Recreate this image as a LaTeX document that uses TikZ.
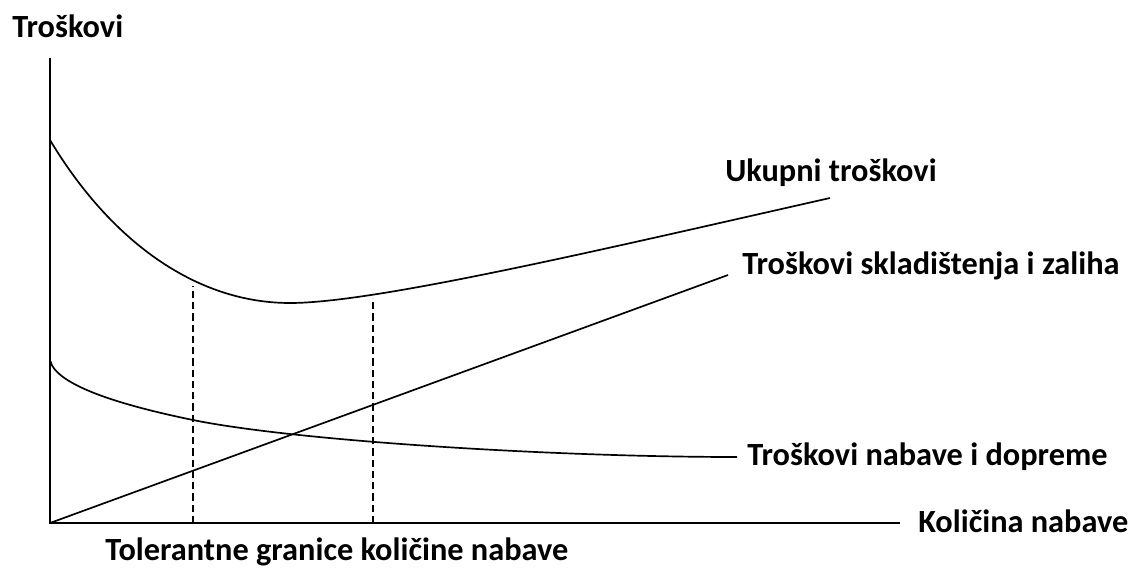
\documentclass[tikz,border=0pt]{standalone}
\usepackage{fontspec}
\setmainfont{Carlito}

\begin{document}
\begin{tikzpicture}[
    x=0.025cm, y=-0.025cm,
    axis/.style={line width=1.3pt},
    cost/.style={line width=1.2pt},
    bound/.style={line width=1pt, dash pattern=on 5pt off 3pt},
    lbl/.style={font=\fontsize{23}{27}\selectfont\bfseries, inner sep=0pt, anchor=base west}
    ]
    \useasboundingbox (0,0) rectangle (1131,567);

    % axes
    \coordinate (O) at (50,523);
    \coordinate (ytop) at (50,58);
    \coordinate (xend) at (900,523);
    \draw [axis] (ytop) -- (O) -- (xend);
    \node [lbl] (yl) at (12,37) {Troškovi};
    \node [lbl] (xl) at (918,532) {Količina nabave};

    % ukupni troskovi
    \coordinate (U0) at (50,140);
    \coordinate (Umin) at (290,303);
    \coordinate (U1) at (830,198);
    \draw [cost] (U0) .. controls (110,240) and (195,303) .. (Umin)
                      .. controls (375,303) and (600,250) .. (U1);
    \node [lbl] (ul) at (725,181) {Ukupni troškovi};

    % skladistenje
    \coordinate (S1) at (728,275);
    \draw [cost] (O) -- (S1);
    \node [lbl] (sl) at (742,274) {Troškovi skladištenja i zaliha};

    % nabava
    \coordinate (N0) at (50,360);
    \coordinate (Nm) at (193,420);
    \coordinate (N1) at (737,457);
    \draw [cost] (N0) .. controls (55,385) and (120,405) .. (Nm)
                      .. controls (293,440.5) and (550,457) .. (N1);
    \node [lbl] (nl) at (747,465) {Troškovi nabave i dopreme};

    % tolerantne granice
    \coordinate (a0) at (193,523);
    \coordinate (a1) at (193,286);
    \coordinate (b0) at (373,523);
    \coordinate (b1) at (373,298);
    \draw [bound] (a0) -- (a1);
    \draw [bound] (b0) -- (b1);
    \node [lbl] (tl) at (105,560) {Tolerantne granice količine nabave};
\end{tikzpicture}
\end{document}
